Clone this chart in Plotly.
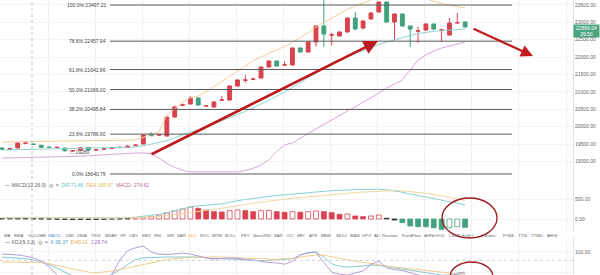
import plotly.graph_objects as go

# ---------------- data ----------------
opens = [19390,19345,19388,19520,19500,19465,19410,19400,19388,19300,
         19330,19405,19330,19355,19372,19400,19400,19465,19503,19790,
         19760,19732,20278,20620,20652,20824,20594,20566,20760,20767,
         21169,21335,21365,21399,21715,21888,21770,21773,22261,22146,
         22434,22893,22630,22606,22721,23123,22836,23095,23295,23583,
         23008,23238,22893,22745,22778,22951,22775,22635,22980,23008]
closes = [19350,19370,19530,19528,19492,19408,19405,19408,19310,19308,
          19397,19330,19335,19362,19378,19408,19445,19470,19762,19740,
          19765,20278,20566,20630,20824,20623,20600,20709,20767,21169,
          21342,21342,21370,21715,21888,21744,21778,22261,22146,22434,
          22893,22664,22640,22721,23123,22807,23037,23267,23583,23008,
          23238,22893,22807,22755,22951,22807,22782,22980,22990,22869.04]
highs = [19410,19390,19545,19580,19520,19480,19430,19420,19400,19320,
         19410,19415,19350,19375,19390,19420,19460,19490,19780,19840,
         19780,20300,20600,20660,20880,20840,20615,20730,20880,21190,
         21360,21485,21395,21730,21905,21900,21880,22280,22290,22460,
         22910,23700,22700,22740,23140,23295,23060,23290,23600,23600,
         23260,23260,22900,22865,22970,22970,22810,23123,23267,23020]
lows = [19330,19330,19380,19500,19480,19395,19390,19390,19280,19290,
        19320,19320,19320,19345,19360,19390,19390,19455,19495,19730,
        19745,19720,20260,20600,20640,20610,20580,20555,20750,20750,
        21150,21255,21350,21385,21700,21730,21760,21760,22130,22130,
        22300,22290,22330,22590,22700,22790,22790,23080,23280,22990,
        22491,22870,22290,22405,22760,22780,22434,22610,22960,22840]

boll_upper = [19560,19565,19570,19575,19580,19585,19585,19590,19590,19590,
              19595,19600,19600,19605,19605,19610,19615,19620,19700,19780,
              19850,20330,20520,20700,20830,20880,21000,21150,21300,21450,
              21600,21750,21900,22000,22120,22200,22300,22420,22560,22700,
              22870,23000,23120,23250,23370,23470,23560,23640,23800,23950,
              24000,23950,23880,23780,23680,23600,23540,23490,23450,23420]
boll_mid = [19330,19335,19340,19345,19350,19355,19360,19365,19370,19375,
            19380,19385,19390,19395,19400,19405,19410,19416,19450,19500,
            19550,19600,19680,19760,19850,19905,19990,20080,20170,20250,
            20350,20440,20540,20650,20760,20880,20990,21130,21260,21390,
            21540,21680,21830,21930,22020,22110,22200,22290,22360,22430,
            22500,22560,22620,22680,22720,22740,22760,22780,22795,22807]
boll_lower = [19100,19103,19106,19110,19113,19116,19120,19124,19129,19140,
              19150,19165,19180,19195,19210,19225,19235,19244,19244,19230,
              19100,18940,18830,18750,18700,18698,18698,18698,18698,18698,
              18700,18740,18800,18900,19050,19290,19480,19531,19675,19804,
              19933,20062,20192,20335,20450,20566,20709,20824,20968,21112,
              21227,21342,21630,21916,22060,22175,22261,22319,22376,22434]

macd_hist = [10,15,20,15,10,5,0,-5,-10,-15,
             -12,-10,-8,-5,0,5,15,30,40,60,
             100,150,208,250,300,268,225,183,175,208,
             225,208,183,208,215,183,168,183,170,183,
             200,183,158,118,125,75,58,75,100,18,
             -25,-92,-175,-192,-195,-218,-258,-218,-192,-210]
macd_dif = [30,35,40,42,42,40,38,35,30,25,
            22,20,20,22,25,28,35,45,70,95,
            115,160,210,250,300,330,350,365,380,420,
            460,490,510,540,570,590,605,625,640,660,
            685,700,710,715,730,735,735,740,745,730,
            705,670,625,585,545,505,460,425,390,355]
macd_dea = [30,32,34,36,38,39,39,38,36,34,
            31,29,27,26,26,26,28,32,40,50,
            62,80,105,130,160,190,220,245,270,300,
            335,365,395,420,450,475,495,515,535,555,
            575,595,615,630,645,660,672,685,700,710,
            712,705,690,670,645,615,580,545,505,465]

kdj_k = [88,87,86,84,81,77,70,62,52,42,
         35,30,32,38,48,57,70,82,86,87,
         88,88,88,88,88,88,86,85,84,83,
         82,81,80,79,80,81,82,84,93,98,
         100,88,72,66,64,65,67,69,68,65,
         62,60,56,53,50,47,45,45,47,48]
kdj_d = [76,76,76,76,76,75,72,68,64,60,
         56,52,50,52,55,58,62,66,70,75,
         78,82,84,86,87,87,88,88,88,87,
         86,85,84,83,83,83,84,85,88,90,
         93,92,89,85,81,78,75,72,69,67,
         64,62,60,58,56,54,51,50,48,48]
kdj_j = [95,94,93,90,86,78,65,45,28,15,
         5,0,5,25,45,81,103,110,114,100,
         95,94,95,97,95,90,86,83,84,86,
         85,82,81,78,75,74,71,78,93,98,
         100,75,52,47,45,50,55,70,79,62,
         58,56,50,45,40,35,33,40,50,52]

fib_pct = ["100.0%", "78.6%", "61.8%", "50.0%", "38.2%", "23.6%", "0.0%"]
fib_levels = [23497.21, 22457.94, 21642.86, 21069.00, 20495.84, 19786.90, 18640.79]

price_ticks = [23500, 23000, 22500, 22000, 21500, 21000, 20500, 20000, 19500, 19000]
macd_ticks = [0, 500]
kdj_ticks = [50, 100]

low_mark = 19280
countdown = "39:50"

toolbar_words = ["MA","EMA","VOLUME","MACD","DMI","DMA","TRIX","BRAR","VR","OBV","EMV","RSI",
                 "WR","SAR","KDJ","ROC","MTM","BOLL","PSY","StochRSI","SAR","CCI","MFI","ATR",
                 "BBW","SKDJ","BIAS","DPO","AD","Position","FundFlow","AHNetVOL","LSUR","ExSQ",
                 "Volume","FTBS","TTSI","TTMU","AHGI"]
macd_legend = ("MACD(12,26,9)", "DIF:71.46", "DEA:169.87", "MACD:-274.62")
kdj_legend = ("KDJ(9,3,3)", "K:36.37", "D:40.11", "J:28.74")

# ---------------- styling / layout constants ----------------
W, H = 600, 275
RED = "#d8434e"
GREEN = "#41a27c"
FONT = "Liberation Sans, Arial, sans-serif"
PLOT_RIGHT = 573

def pxx(p):
    return p / W

def pxy(p):
    return 1 - p / H

idx = list(range(len(opens)))
xr = [-0.255, 72.74]

fig = go.Figure()

fig.add_trace(go.Candlestick(
    x=idx, open=opens, high=highs, low=lows, close=closes,
    increasing=dict(line=dict(color=RED, width=1), fillcolor=RED),
    decreasing=dict(line=dict(color=GREEN, width=1), fillcolor=GREEN),
    whiskerwidth=0, xaxis="x", yaxis="y", showlegend=False, hoverinfo="skip"))

for vals, col in [(boll_upper, "#f3cd9c"), (boll_mid, "#8fd3d2"), (boll_lower, "#d9a6d9")]:
    fig.add_trace(go.Scatter(x=idx, y=vals, mode="lines", line=dict(color=col, width=1),
                             xaxis="x", yaxis="y", showlegend=False, hoverinfo="skip"))

# MACD histogram
fills, lines = [], []
for i, v in enumerate(macd_hist):
    prev = macd_hist[i - 1] if i > 0 else v
    base = RED if v >= 0 else GREEN
    if abs(v) < 30:
        fills.append("#333333"); lines.append("#333333")
    elif v > prev:
        fills.append("white"); lines.append(base)
    else:
        fills.append(base); lines.append(base)
fig.add_trace(go.Bar(x=idx, y=macd_hist, width=0.62,
                     marker=dict(color=fills, line=dict(color=lines, width=0.8)),
                     xaxis="x2", yaxis="y2", showlegend=False, hoverinfo="skip"))
fig.add_trace(go.Scatter(x=idx, y=macd_dif, mode="lines", line=dict(color="#86d2d3", width=1),
                         xaxis="x2", yaxis="y2", showlegend=False, hoverinfo="skip"))
fig.add_trace(go.Scatter(x=idx, y=macd_dea, mode="lines", line=dict(color="#f0d8a0", width=1),
                         xaxis="x2", yaxis="y2", showlegend=False, hoverinfo="skip"))

# KDJ
for vals, col in [(kdj_k, "#86c8d4"), (kdj_d, "#f0cd8c"), (kdj_j, "#b49bd6")]:
    fig.add_trace(go.Scatter(x=idx, y=vals, mode="lines", line=dict(color=col, width=1),
                             xaxis="x3", yaxis="y3", showlegend=False, hoverinfo="skip"))

xcommon = dict(domain=[0, PLOT_RIGHT / W], range=xr, showticklabels=False, showgrid=True,
               gridcolor="#f1f1f1", gridwidth=1, tick0=5.86, dtick=6, zeroline=False,
               ticks="", showline=False, fixedrange=True)
ycommon = dict(side="right", showgrid=True, gridcolor="#f4f4f4", zeroline=False,
               showline=True, linecolor="#e4e4e4", linewidth=1, ticks="",
               tickfont=dict(size=5, color="#666", family=FONT), fixedrange=True)

p_top_val = 23640.9
p_bot_val = 18468.4

fig.update_layout(
    width=W, height=H, margin=dict(l=0, r=0, t=0, b=0),
    paper_bgcolor="white", plot_bgcolor="white",
    font=dict(family=FONT, size=5, color="#555"),
    xaxis=dict(**xcommon, anchor="y", rangeslider=dict(visible=False)),
    xaxis2=dict(**xcommon, anchor="y2", matches="x"),
    xaxis3=dict(**xcommon, anchor="y3", matches="x"),
    yaxis=dict(**ycommon, anchor="x", domain=[1 - 180 / H, 1], range=[p_bot_val, p_top_val],
               tickvals=price_ticks, ticktext=[f"{v:.2f}" for v in price_ticks]),
    yaxis2=dict(**ycommon, anchor="x2", domain=[1 - 232 / H, 1 - 180 / H], range=[-325, 975],
                tickvals=macd_ticks, ticktext=[f"{v:.2f}" for v in macd_ticks]),
    yaxis3=dict(**ycommon, anchor="x3", domain=[0, 1 - 237 / H], range=[45.2, 135.7],
                tickvals=kdj_ticks, ticktext=[f"{v:.2f}" for v in kdj_ticks]),
    bargap=0.3,
)

shapes = []
annots = []

# dotted vertical cross line
shapes.append(dict(type="line", xref="paper", yref="paper", x0=pxx(32), x1=pxx(32), y0=0, y1=1,
                   line=dict(color="#c4c4c4", width=1, dash="dot")))
# KDJ 80 dotted
shapes.append(dict(type="line", xref="paper", yref="y3", x0=0, x1=PLOT_RIGHT / W, y0=80, y1=80,
                   line=dict(color="#d0d0d0", width=1, dash="dot")))

# fib levels
for pct, lv in zip(fib_pct, fib_levels):
    shapes.append(dict(type="line", xref="paper", yref="y", x0=pxx(110), x1=pxx(512), y0=lv, y1=lv,
                       line=dict(color="#5a5a5a", width=1)))
    annots.append(dict(xref="paper", yref="y", x=pxx(108), y=lv, xanchor="right", yanchor="middle",
                       text=f"{pct} {lv:.2f}", showarrow=False,
                       font=dict(size=5, color="#444", family=FONT)))

# low marker
annots.append(dict(xref="paper", yref="y", x=pxx(67), y=low_mark, xanchor="left", yanchor="middle",
                   text=f"← {low_mark}", showarrow=False, font=dict(size=5, color="#444", family=FONT)))

# red arrows
annots.append(dict(xref="paper", yref="paper", x=pxx(378), y=pxy(41), ax=150 - 378, ay=155 - 41,
                   axref="pixel", ayref="pixel", text="", showarrow=True, arrowhead=2, arrowsize=1.1,
                   arrowwidth=2.6, arrowcolor="#bd1a1f"))
annots.append(dict(xref="paper", yref="paper", x=pxx(533), y=pxy(56), ax=472 - 533, ay=28 - 56,
                   axref="pixel", ayref="pixel", text="", showarrow=True, arrowhead=2, arrowsize=1.1,
                   arrowwidth=2.2, arrowcolor="#c21b20"))

# red ellipses
shapes.append(dict(type="circle", xref="paper", yref="paper", x0=pxx(442), x1=pxx(497),
                   y0=pxy(238), y1=pxy(198), line=dict(color="#9c1b1f", width=1.3)))
shapes.append(dict(type="circle", xref="paper", yref="paper", x0=pxx(450), x1=pxx(493),
                   y0=pxy(292), y1=pxy(262), line=dict(color="#9c1b1f", width=1.3)))

# current price box
annots.append(dict(xref="paper", yref="paper", x=1.0, y=pxy(31.5), xanchor="right", yanchor="middle",
                   text=f"{closes[-1]:.2f}<br>{countdown}", showarrow=False, align="center",
                   bgcolor="#4aa57f", width=25, height=12, borderpad=0,
                   font=dict(size=5, color="white", family=FONT)))

# toolbar words
word_x = [7, 18, 37, 55, 70, 82, 96, 111, 123, 133, 146, 158, 170, 181, 192, 205, 217, 231, 245,
          262, 278, 289, 300, 313, 326, 341, 355, 367, 377, 390, 412, 435, 454, 468, 488, 508,
          522, 537, 552]
for wx, wd in zip(word_x, toolbar_words):
    col = "#666"
    if wd == "MACD":
        col = "#4a8fe0"
    elif wd == "KDJ":
        col = "#e6a53a"
    annots.append(dict(xref="paper", yref="paper", x=pxx(wx), y=pxy(235.5), xanchor="center",
                       yanchor="middle", text=wd, showarrow=False,
                       font=dict(size=4.3, color=col, family=FONT)))

# pane legends
annots.append(dict(xref="paper", yref="paper", x=pxx(3), y=pxy(185), xanchor="left", yanchor="middle",
                   showarrow=False, font=dict(size=5, color="#666", family=FONT),
                   text=(f"— {macd_legend[0]}  ◎  ×  "
                         f"<span style='color:#5cc0c0'>{macd_legend[1]}</span>  "
                         f"<span style='color:#e3b64f'>{macd_legend[2]}</span>  "
                         f"<span style='color:#c06a9a'>{macd_legend[3]}</span>")))
annots.append(dict(xref="paper", yref="paper", x=pxx(3), y=pxy(242), xanchor="left", yanchor="middle",
                   showarrow=False, font=dict(size=5, color="#666", family=FONT),
                   text=(f"— {kdj_legend[0]}  ◎  ×  "
                         f"<span style='color:#4f9fcf'>{kdj_legend[1]}</span>  "
                         f"<span style='color:#e3a43f'>{kdj_legend[2]}</span>  "
                         f"<span style='color:#9b6fcc'>{kdj_legend[3]}</span>")))

fig.update_layout(shapes=shapes, annotations=annots)
fig.write_html("out.html")
